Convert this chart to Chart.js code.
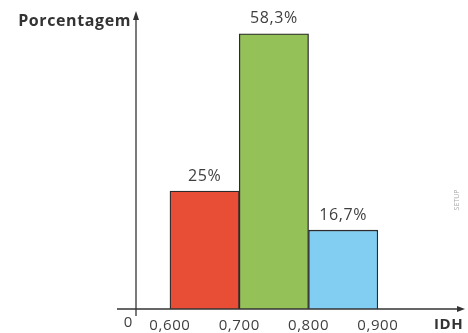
<!DOCTYPE html>
<html>
<head>
<meta charset="utf-8">
<script src="https://cdn.jsdelivr.net/npm/chart.js@4.4.0/dist/chart.umd.min.js"></script>
<style>
  body { margin: 0; background: #fff; }
</style>
</head>
<body>
<canvas id="idhChart" width="468" height="333"></canvas>
<script>
// IDH classes (start / end of each interval) and share of cases
const binStart = [0.6, 0.7, 0.8];
const binEnd = [0.7, 0.8, 0.9];
const percentages = [25, 58.3, 16.7];
const percentLabels = ['25%', '58,3%', '16,7%'];
const barColors = ['#e84d36', '#94c258', '#82cef2'];
const xTicks = [0.6, 0.7, 0.8, 0.9];
const xTitle = 'IDH';
const yTitle = 'Porcentagem';
const originLabel = '0';

const fontFamily = "'Open Sans', 'Noto Sans', sans-serif";
const textColor = '#3f3f3f';

// a bit of letter spacing, the original font is wide
const spacingPlugin = {
    id: 'spacing',
    beforeDraw(chart) {
        chart.ctx.letterSpacing = '0.6px';
    }
};

// axes with arrows, titles, value labels
const decorPlugin = {
    id: 'decor',
    afterDatasetsDraw(chart) {
        const ctx = chart.ctx;
        const area = chart.chartArea;
        const xs = chart.scales.x;
        const ys = chart.scales.y;
        const y0 = ys.getPixelForValue(0);
        const x0 = xs.left;

        ctx.save();
        ctx.strokeStyle = '#333';
        ctx.fillStyle = '#333';
        ctx.lineWidth = 1.3;

        // x axis
        ctx.beginPath();
        ctx.moveTo(x0 - 19, y0);
        ctx.lineTo(area.right, y0);
        ctx.stroke();
        ctx.beginPath();
        ctx.moveTo(area.right + 4, y0);
        ctx.lineTo(area.right - 4, y0 - 3);
        ctx.lineTo(area.right - 4, y0 + 3);
        ctx.closePath();
        ctx.fill();

        // y axis
        ctx.beginPath();
        ctx.moveTo(x0, y0 + 7);
        ctx.lineTo(x0, area.top + 4);
        ctx.stroke();
        ctx.beginPath();
        ctx.moveTo(x0, area.top - 3);
        ctx.lineTo(x0 - 3, area.top + 6);
        ctx.lineTo(x0 + 3, area.top + 6);
        ctx.closePath();
        ctx.fill();

        // titles
        ctx.fillStyle = '#333';
        ctx.font = "bold 16px " + fontFamily;
        ctx.textBaseline = 'middle';
        ctx.textAlign = 'right';
        ctx.fillText(yTitle, x0 - 5, area.top + 7);
        ctx.font = "bold 15px " + fontFamily;
        ctx.textAlign = 'left';
        ctx.fillText(xTitle, area.right - 27, y0 + 16);

        ctx.fillStyle = textColor;
        ctx.font = "15px " + fontFamily;
        ctx.textAlign = 'right';
        ctx.fillText(originLabel, x0 - 3, y0 + 14);

        // value labels above bars
        const meta = chart.getDatasetMeta(0);
        ctx.textAlign = 'center';
        ctx.font = "16px " + fontFamily;
        meta.data.forEach((bar, i) => {
            ctx.fillText(percentLabels[i], bar.x, bar.y - 15);
        });

        // small credit
        ctx.letterSpacing = '0px';
        ctx.translate(area.right - 4, 200);
        ctx.rotate(-Math.PI / 2);
        ctx.font = "7px " + fontFamily;
        ctx.fillStyle = '#aaa';
        ctx.textAlign = 'center';
        ctx.fillText('SETUP', 0, 0);
        ctx.restore();
    }
};

const ctx = document.getElementById('idhChart').getContext('2d');
const idhChart = new Chart(ctx, {
    type: 'bar',
    data: {
        datasets: [{
            data: binStart.map((s, i) => ({ x: (s + binEnd[i]) / 2, y: percentages[i] })),
            backgroundColor: barColors,
            borderColor: '#2b2b2b',
            borderWidth: 1.3,
            barPercentage: 1,
            categoryPercentage: 1
        }]
    },
    options: {
        responsive: false,
        animation: false,
        layout: { padding: { left: 136, right: 7, top: 14, bottom: 0 } },
        plugins: { legend: { display: false }, tooltip: { enabled: false } },
        scales: {
            x: {
                type: 'linear',
                min: 0.551,
                max: 1.02,
                offset: false,
                grid: { display: false, drawTicks: false },
                border: { display: false },
                afterBuildTicks: scale => { scale.ticks = xTicks.map(v => ({ value: v })); },
                afterFit: scale => { scale.height = 24; },
                ticks: {
                    autoSkip: false,
                    maxRotation: 0,
                    padding: 8,
                    color: textColor,
                    font: { family: fontFamily, size: 15 },
                    callback: v => v.toFixed(3).replace('.', ',')
                }
            },
            y: {
                display: false,
                min: 0,
                max: 62.5
            }
        }
    },
    plugins: [spacingPlugin, decorPlugin]
});
</script>
</body>
</html>
